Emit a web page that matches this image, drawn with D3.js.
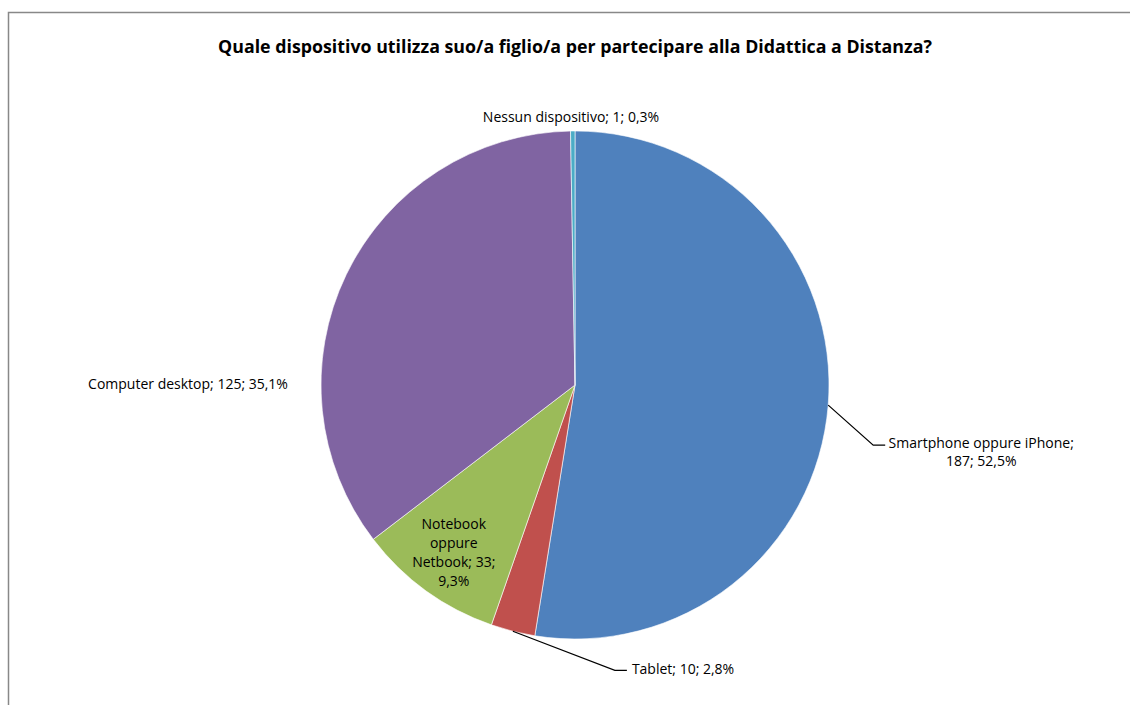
<!DOCTYPE html>
<html lang="it">
<head>
<meta charset="UTF-8">
<title>Didattica a Distanza - dispositivi</title>
<script src="https://d3js.org/d3.v7.min.js"></script>
<style>
  body { margin: 0; background: #fff; }
  svg text { font-family: "Open Sans", sans-serif; fill: #000; }
</style>
</head>
<body>
<svg id="chart" width="1130" height="705"></svg>
<script>
// data, clockwise from 12 o'clock
const categories = ["Smartphone oppure iPhone", "Tablet", "Notebook oppure Netbook", "Computer desktop", "Nessun dispositivo"];
const counts = [187, 10, 33, 125, 1];
const percents = ["52,5%", "2,8%", "9,3%", "35,1%", "0,3%"];
const colors = ["#4F81BD", "#C0504D", "#9BBB59", "#8064A2", "#4BACC6"];
const title = "Quale dispositivo utilizza suo/a figlio/a per partecipare alla Didattica a Distanza?";

const svg = d3.select("#chart");
const W = 1130, H = 705;

// chart frame (only top and left visible)
svg.append("path")
    .attr("d", `M8.5,${H} V12.5 H${W}`)
    .attr("fill", "none")
    .attr("stroke", "#888")
    .attr("stroke-width", 1.5);

svg.append("text")
    .attr("x", 575).attr("y", 53)
    .attr("text-anchor", "middle")
    .attr("font-weight", "bold")
    .attr("font-size", 17.8)
    .text(title);

const cx = 575, cy = 385, r = 254;
const g = svg.append("g").attr("transform", `translate(${cx},${cy})`);

const data = categories.map((c, i) => ({ name: c, value: counts[i], pct: percents[i], color: colors[i] }));
const pie = d3.pie().value(d => d.value).sort(null);
const arcs = pie(data);
const arc = d3.arc().innerRadius(0).outerRadius(r);

g.selectAll("path.slice")
    .data(arcs)
    .enter().append("path")
    .attr("class", "slice")
    .attr("d", arc)
    .attr("fill", d => d.data.color)
    .attr("stroke", "#fff")
    .attr("stroke-width", 0.6);

// point on the rim at the middle of a slice
function rim(d, rr) {
    const a = (d.startAngle + d.endAngle) / 2;
    return [Math.sin(a) * rr, -Math.cos(a) * rr];
}

const labelFont = 14;
function addLabel(lines, x, y, anchor, step) {
    const t = g.append("text")
        .attr("font-size", labelFont)
        .attr("text-anchor", anchor || "middle");
    lines.forEach((ln, i) => {
        t.append("tspan").attr("x", x).attr("y", y + i * (step || 19)).text(ln);
    });
}

function leader(pts) {
    g.append("polyline")
        .attr("points", pts.map(p => p.join(",")).join(" "))
        .attr("fill", "none").attr("stroke", "#000").attr("stroke-width", 1.2);
}

// Smartphone: leader line to the right
{
    const d = arcs[0];
    const p0 = rim(d, r);
    const p1 = [p0[0] + 45, p0[1] + 40];
    const p2 = [p1[0] + 12, p1[1]];
    leader([p0, p1, p2]);
    addLabel([d.data.name + ";", d.data.value + "; " + d.data.pct], p2[0] + 96, p2[1] + 3, "middle", 18);
}

// Tablet: leader line down-right
{
    const d = arcs[1];
    const p0 = rim(d, r);
    const p1 = [p0[0] + 102, p0[1] + 39];
    const p2 = [p1[0] + 12, p1[1]];
    leader([p0, p1, p2]);
    addLabel([d.data.name + "; " + d.data.value + "; " + d.data.pct], p2[0] + 5, p2[1] + 4, "start");
}

// Notebook: inside the slice
{
    const d = arcs[2];
    const p = rim(d, r * 0.72);
    addLabel(["Notebook", "oppure", "Netbook; " + d.data.value + ";", d.data.pct], p[0] - 14, p[1] - 4);
}

// Computer desktop: to the left
{
    const d = arcs[3];
    addLabel([d.data.name + "; " + d.data.value + "; " + d.data.pct], -r - 133, 4);
}

// Nessun dispositivo: above
{
    const d = arcs[4];
    addLabel([d.data.name + "; " + d.data.value + "; " + d.data.pct], -4, -r - 9);
}
</script>
</body>
</html>
